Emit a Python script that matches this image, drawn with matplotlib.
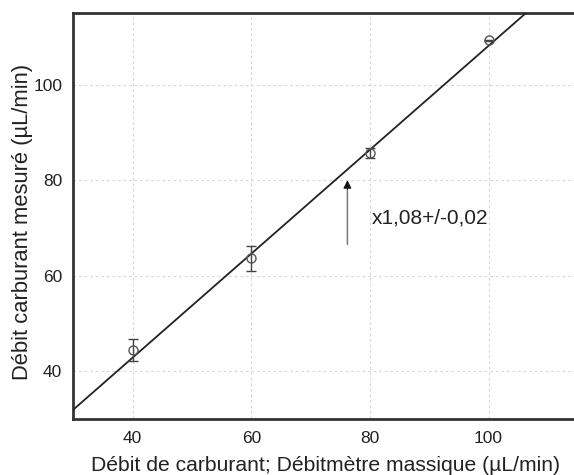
import matplotlib.pyplot as plt
import numpy as np

plt.rcParams["font.family"] = ["Liberation Sans", "DejaVu Sans"]

# mesures
debit_massique = [40, 60, 80, 100]
debit_mesure = [44.5, 63.6, 85.7, 109.3]
erreur = [2.3, 2.7, 1.0, 0.2]

# droite d'ajustement
pente = 1.09
ordonnee = -0.8

x_ticks = [40, 60, 80, 100]
y_ticks = [40, 60, 80, 100]

fig = plt.figure(figsize=(5.74, 4.75), dpi=100)
ax = fig.add_axes([0.1277, 0.1185, 0.8786, 0.8535])

xs = np.array([30, 115])
ax.plot(xs, pente * xs + ordonnee, color="#222222", linewidth=1.3, zorder=3)

ax.errorbar(debit_massique, debit_mesure, yerr=erreur, fmt="o",
            markersize=6.5, markerfacecolor="none", markeredgecolor="#555555",
            markeredgewidth=1.0, ecolor="#444444", elinewidth=1.0,
            capsize=3.5, capthick=1.0, zorder=4)

ax.annotate("", xy=(76.2, 80.0), xytext=(76.2, 66.6),
            arrowprops=dict(arrowstyle="-|>", color="#111111", lw=0.8,
                            mutation_scale=12, shrinkA=0, shrinkB=0))
ax.plot([76.2, 76.2], [66.6, 78.0], color="#777777", linewidth=0.9, zorder=5)
ax.text(80.3, 72.0, "x1,08+/-0,02", fontsize=15, va="center", ha="left",
        color="#222222")

ax.set_xlim(30, 115)
ax.set_ylim(30, 115)
ax.set_xticks(x_ticks)
ax.set_yticks(y_ticks)
ax.tick_params(length=0, labelsize=12.5, colors="#222222")
ax.tick_params(axis="x", pad=9)
ax.tick_params(axis="y", pad=8)

ax.grid(linestyle=(0, (2.5, 2.5)), linewidth=0.8, color="#d8d8d8")
for s in ax.spines.values():
    s.set_linewidth(2.0)
    s.set_color("#333333")

ax.set_xlabel("Débit de carburant; Débitmètre massique (µL/min)",
              fontsize=15.2, color="#222222", labelpad=7)
ax.set_ylabel("Débit carburant mesuré (µL/min)", fontsize=15.8,
              color="#222222")
ax.yaxis.set_label_coords(-0.08, 0.485)

fig.savefig("out.png", dpi=100)
